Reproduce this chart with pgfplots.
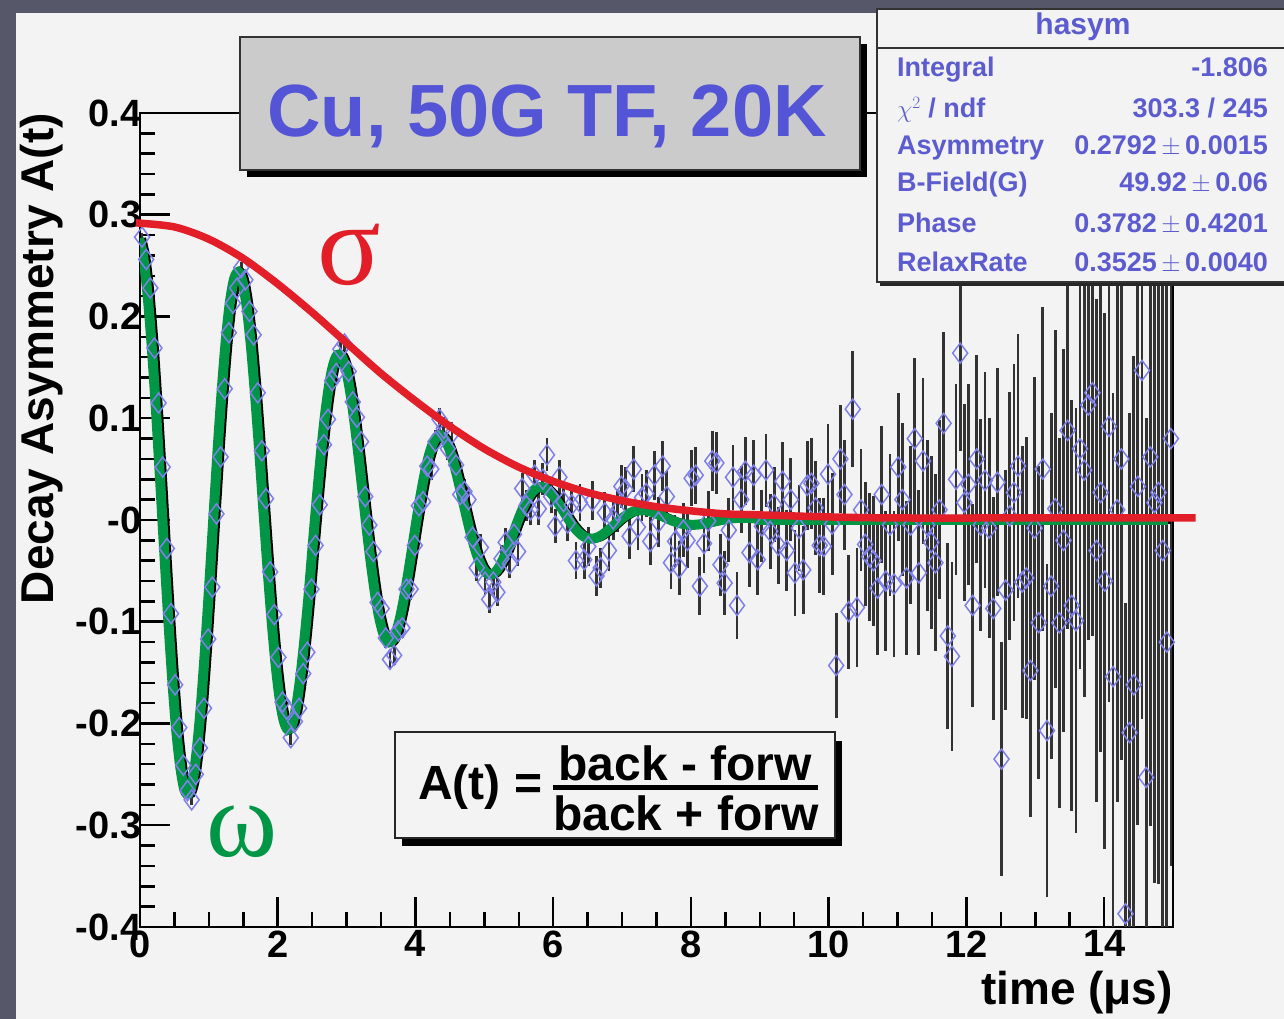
\documentclass[border=0pt]{standalone}
\usepackage{fontspec}
\setmainfont{Liberation Sans}
\newfontfamily\serifgr{Liberation Serif}
\usepackage{pgfplots}
\pgfplotsset{compat=1.18}
\usepackage{pgfplotstable}
\definecolor{bgdark}{RGB}{86,88,106}
\definecolor{canvas}{RGB}{243,243,243}
\definecolor{titlegray}{RGB}{203,203,203}
\definecolor{rootblue}{RGB}{84,84,214}
\definecolor{statblue}{RGB}{92,92,208}
\definecolor{markblue}{RGB}{128,128,236}
\definecolor{fitred}{RGB}{226,30,40}
\definecolor{fitgreen}{RGB}{0,150,70}

\pgfplotstableread{
t m y e
0.03 0.2767 0.278 0.0042
0.09 0.2587 0.256 0.0043
0.15 0.2237 0.228 0.0043
0.21 0.1743 0.169 0.0044
0.27 0.1138 0.115 0.0044
0.33 0.0459 0.052 0.0045
0.39 -0.0247 -0.028 0.0045
0.45 -0.0931 -0.092 0.0046
0.51 -0.1551 -0.162 0.0047
0.57 -0.2069 -0.204 0.0047
0.63 -0.2436 -0.241 0.0048
0.69 -0.2655 -0.266 0.0049
0.75 -0.2689 -0.275 0.0049
0.81 -0.2554 -0.250 0.0050
0.87 -0.2249 -0.224 0.0051
0.93 -0.1805 -0.185 0.0052
0.99 -0.1249 -0.117 0.0052
1.05 -0.0630 -0.066 0.0053
1.11 0.0033 0.006 0.0054
1.17 0.0681 0.062 0.0054
1.23 0.1270 0.129 0.0055
1.29 0.1770 0.184 0.0056
1.35 0.2145 0.213 0.0057
1.41 0.2369 0.228 0.0057
1.47 0.2439 0.248 0.0058
1.53 0.2349 0.236 0.0059
1.59 0.2109 0.205 0.0060
1.65 0.1739 0.182 0.0061
1.71 0.1265 0.125 0.0061
1.77 0.0721 0.068 0.0062
1.83 0.0145 0.021 0.0063
1.89 -0.0425 -0.051 0.0064
1.95 -0.0953 -0.093 0.0065
2.01 -0.1403 -0.135 0.0066
2.07 -0.1750 -0.179 0.0067
2.13 -0.1972 -0.186 0.0068
2.19 -0.2061 -0.214 0.0069
2.25 -0.2014 -0.198 0.0070
2.31 -0.1839 -0.185 0.0071
2.37 -0.1554 -0.151 0.0072
2.43 -0.1182 -0.130 0.0073
2.49 -0.0753 -0.068 0.0074
2.55 -0.0261 -0.025 0.0075
2.61 0.0209 0.015 0.0076
2.67 0.0648 0.074 0.0077
2.73 0.1029 0.099 0.0078
2.79 0.1327 0.137 0.0079
2.85 0.1528 0.144 0.0080
2.91 0.1623 0.168 0.0081
2.97 0.1609 0.173 0.0082
3.03 0.1492 0.146 0.0083
3.09 0.1284 0.116 0.0084
3.15 0.1002 0.101 0.0086
3.21 0.0669 0.077 0.0087
3.27 0.0310 0.023 0.0088
3.33 -0.0054 -0.005 0.0089
3.39 -0.0395 -0.031 0.0090
3.45 -0.0694 -0.081 0.0092
3.51 -0.0936 -0.087 0.0093
3.57 -0.1103 -0.116 0.0094
3.63 -0.1192 -0.137 0.0095
3.69 -0.1198 -0.133 0.0097
3.75 -0.1127 -0.109 0.0098
3.81 -0.0988 -0.106 0.0099
3.87 -0.0793 -0.068 0.0101
3.93 -0.0557 -0.068 0.0102
3.99 -0.0301 -0.025 0.0103
4.05 -0.0039 0.014 0.0105
4.11 0.0210 0.018 0.0106
4.17 0.0431 0.053 0.0108
4.23 0.0611 0.050 0.0109
4.29 0.0741 0.077 0.0111
4.35 0.0815 0.099 0.0112
4.41 0.0832 0.090 0.0114
4.47 0.0794 0.070 0.0115
4.53 0.0708 0.085 0.0117
4.59 0.0582 0.054 0.0118
4.65 0.0427 0.025 0.0120
4.71 0.0255 0.028 0.0122
4.77 0.0078 0.020 0.0123
4.83 -0.0092 -0.017 0.0125
4.89 -0.0243 -0.047 0.0127
4.95 -0.0369 -0.027 0.0128
5.01 -0.0462 -0.061 0.0130
5.07 -0.0518 -0.078 0.0132
5.13 -0.0538 -0.061 0.0134
5.19 -0.0521 -0.071 0.0136
5.25 -0.0472 -0.038 0.0138
5.31 -0.0396 -0.022 0.0139
5.37 -0.0301 -0.043 0.0141
5.43 -0.0193 -0.014 0.0144
5.49 -0.0082 -0.031 0.0146
5.55 0.0026 0.031 0.0148
5.61 0.0124 0.014 0.0150
5.67 0.0206 0.010 0.0152
5.73 0.0268 0.044 0.0154
5.79 0.0308 0.011 0.0156
5.85 0.0324 0.040 0.0158
5.91 0.0319 0.064 0.0161
5.97 0.0293 0.023 0.0163
6.03 0.0251 -0.006 0.0167
6.09 0.0196 0.042 0.0170
6.15 0.0133 0.018 0.0173
6.21 0.0068 -0.003 0.0175
6.27 0.0003 0.015 0.0178
6.33 -0.0056 -0.040 0.0180
6.39 -0.0105 0.017 0.0183
6.45 -0.0144 -0.039 0.0186
6.51 -0.0170 -0.026 0.0189
6.57 -0.0182 0.019 0.0192
6.63 -0.0182 -0.055 0.0195
6.69 -0.0170 -0.047 0.0198
6.75 -0.0148 0.007 0.0201
6.81 -0.0119 -0.030 0.0204
6.87 -0.0085 0.001 0.0207
6.93 -0.0049 0.009 0.0210
6.99 -0.0012 0.033 0.0213
7.05 0.0021 0.030 0.0216
7.11 0.0049 -0.016 0.0219
7.17 0.0072 0.050 0.0223
7.23 0.0087 -0.007 0.0226
7.29 0.0095 0.022 0.0230
7.35 0.0097 0.026 0.0233
7.41 0.0092 -0.021 0.0237
7.47 0.0081 0.044 0.0241
7.53 0.0066 -0.002 0.0245
7.59 0.0049 0.053 0.0248
7.65 0.0030 0.023 0.0252
7.71 0.0012 -0.042 0.0256
7.77 -0.0006 -0.021 0.0260
7.83 -0.0021 -0.047 0.0264
7.89 -0.0033 -0.010 0.0268
7.95 -0.0042 -0.020 0.0272
8.01 -0.0046 0.041 0.0276
8.07 -0.0048 0.044 0.0280
8.13 -0.0046 -0.065 0.0284
8.19 -0.0041 -0.023 0.0288
8.25 -0.0034 -0.001 0.0293
8.31 -0.0026 0.058 0.0297
8.37 -0.0017 0.056 0.0302
8.43 -0.0008 -0.044 0.0306
8.49 0.0000 -0.062 0.0311
8.55 0.0008 -0.010 0.0315
8.61 0.0014 0.042 0.0320
8.67 0.0018 -0.084 0.0325
8.73 0.0021 0.020 0.0330
8.79 0.0022 0.048 0.0335
8.85 0.0021 -0.032 0.0340
8.91 0.0020 0.044 0.0345
8.97 0.0017 -0.039 0.0350
9.03 0 -0.006 0.035
9.09 0 0.049 0.036
9.15 0 -0.011 0.037
9.21 0 0.015 0.037
9.27 0 -0.025 0.038
9.33 0 0.038 0.039
9.39 0 -0.030 0.040
9.45 0 0.020 0.041
9.51 0 -0.052 0.042
9.57 0 -0.008 0.042
9.63 0 -0.049 0.043
9.69 0 0.034 0.044
9.75 0 0.036 0.045
9.81 0 0.012 0.046
9.87 0 -0.025 0.047
9.93 0 -0.026 0.048
9.99 0 0.045 0.049
10.05 0 -0.004 0.050
10.11 0 -0.143 0.052
10.17 0 0.060 0.053
10.23 0 0.025 0.054
10.29 0 -0.090 0.056
10.35 0 0.109 0.057
10.41 0 -0.086 0.058
10.47 0 0.010 0.060
10.53 0 -0.024 0.061
10.59 0 -0.036 0.063
10.65 0 -0.040 0.064
10.71 0 -0.067 0.066
10.77 0 0.025 0.067
10.83 0 -0.060 0.069
10.89 0 -0.005 0.070
10.95 0 -0.063 0.072
11.01 0 0.052 0.073
11.07 0 0.020 0.075
11.13 0 -0.057 0.076
11.19 0 -0.005 0.078
11.25 0 0.080 0.079
11.31 0 -0.052 0.081
11.37 0 0.058 0.082
11.43 0 -0.005 0.084
11.49 0 -0.022 0.085
11.55 0 -0.042 0.087
11.61 0 0.010 0.088
11.67 0 0.095 0.090
11.73 0 -0.114 0.091
11.79 0 -0.134 0.093
11.85 0 0.040 0.094
11.91 0 0.164 0.096
11.97 0 0.017 0.097
12.03 0 0.035 0.099
12.09 0 -0.084 0.100
12.15 0 0.060 0.102
12.21 0 -0.005 0.104
12.27 0 0.039 0.106
12.33 0 -0.008 0.108
12.39 0 -0.087 0.110
12.45 0 0.037 0.112
12.51 0 -0.235 0.115
12.57 0 -0.069 0.118
12.63 0 0.004 0.122
12.69 0 0.027 0.126
12.75 0 0.053 0.130
12.81 0 -0.061 0.134
12.87 0 -0.057 0.139
12.93 0 -0.148 0.144
12.99 0 -0.008 0.149
13.05 0 -0.101 0.154
13.11 0 0.050 0.159
13.17 0 -0.207 0.164
13.23 0 -0.065 0.170
13.29 0 0.011 0.176
13.35 0 -0.101 0.182
13.41 0 -0.020 0.188
13.47 0 0.088 0.195
13.53 0 -0.084 0.202
13.59 0 -0.099 0.209
13.65 0 0.070 0.216
13.71 0 0.049 0.223
13.77 0 0.113 0.231
13.83 0 0.125 0.239
13.89 0 -0.030 0.247
13.95 0 0.027 0.255
14.01 0 -0.060 0.263
14.07 0 0.092 0.271
14.13 0 -0.154 0.279
14.19 0 0.010 0.287
14.25 0 0.060 0.296
14.31 0 -0.387 0.305
14.37 0 -0.209 0.314
14.43 0 -0.162 0.323
14.49 0 0.033 0.333
14.55 0 0.147 0.343
14.61 0 -0.253 0.353
14.67 0 0.062 0.363
14.73 0 0.017 0.374
14.79 0 0.027 0.385
14.85 0 -0.030 0.396
14.91 0 -0.120 0.408
14.97 0 0.080 0.420
}\asym

\begin{document}
\begin{tikzpicture}[x=1pt,y=1pt]
\useasboundingbox (0,0) rectangle (1284,1019);
\fill[bgdark] (0,0) rectangle (1284,1019);
\fill[canvas] (16,0) rectangle (1284,1006);

\begin{axis}[
  at={(140pt,92pt)}, anchor=south west,
  scale only axis, width=1033pt, height=814pt,
  xmin=0, xmax=15, ymin=-0.4, ymax=0.4,
  xtick={0,2,4,6,8,10,12,14},
  xticklabels={0,2,4,6,8,10,12,14},
  ytick={-0.4,-0.3,-0.2,-0.1,0,0.1,0.2,0.3,0.4},
  yticklabels={-0.4,-0.3,-0.2,-0.1,-0,0.1,0.2,0.3,0.4},
  minor x tick num=3, minor y tick num=4,
  tick pos=left, tick align=inside,
  major tick length=30pt, minor tick length=15pt,
  tick style={black, line width=2.5pt},
  axis line style={black, line width=2.5pt},
  ticklabel style={font=\fontsize{38}{45}\selectfont\bfseries},
  yticklabel style={xshift=5pt},
  xlabel={time (μs)},
  ylabel={Decay Asymmetry A(t)},
  xlabel style={at={(axis description cs:1,-0.0958)}, anchor=base east, inner sep=0pt, font=\fontsize{46}{55}\selectfont\bfseries},
  ylabel style={at={(axis description cs:-0.0842,1)}, anchor=base east, inner sep=0pt, font=\fontsize{46}{55}\selectfont\bfseries},
]
\addplot[only marks, mark=diamond, mark size=10pt,
  mark options={draw=markblue, fill=none, line width=1.5pt, solid},
  error bars/.cd, y dir=both, y explicit, error mark=none,
  error bar style={draw=black!80, line width=2.8pt}]
  table[x=t, y=y, y error=e]{\asym};
\addplot[black, line width=8pt, smooth, mark=none] table[x=t, y=m]{\asym};
\addplot[fitgreen, line width=10pt, smooth, mark=none, xshift=-3pt] table[x=t, y=m]{\asym};
\end{axis}

\begin{axis}[
  at={(140pt,92pt)}, anchor=south west,
  scale only axis, width=1033pt, height=814pt,
  xmin=0, xmax=15, ymin=-0.4, ymax=0.4,
  hide axis, clip=false]
\addplot[fitred, line width=7.5pt, smooth, mark=none] coordinates {
(-0.06,0.292) (0.5,0.288) (1,0.276) (1.5,0.257) (2,0.232) (2.5,0.204)
(3,0.174) (3.5,0.144) (4,0.117) (4.5,0.092) (5,0.070) (5.5,0.052)
(6,0.038) (6.5,0.027) (7,0.019) (7.5,0.013) (8,0.009) (8.5,0.006)
(9,0.005) (10,0.003) (11,0.002) (13,0.002) (15.33,0.002)};
\end{axis}

% title box
\fill[black] (247,842) rectangle (867,975);
\filldraw[fill=titlegray, draw=black!80, line width=1.5pt] (240,849) rectangle (860,982);
\node[anchor=base, inner sep=0pt, text=rootblue, font=\fontsize{74}{88}\selectfont\bfseries] at (547,882) {Cu, 50G TF, 20K};

% stats box
\fill[black!85] (880,733) rectangle (1290,1000);
\filldraw[fill=canvas, draw=black!80, line width=2pt] (877,737) rectangle (1290,1010);
\draw[black!80, line width=2pt] (877,971) -- (1290,971);
\begin{scope}[every node/.style={inner sep=0pt, text=statblue, font=\fontsize{27}{32}\selectfont\bfseries}]
\node[anchor=base, font=\fontsize{30}{36}\selectfont\bfseries] at (1083,984) {hasym};
\node[anchor=base west] at (897,942) {Integral};
\node[anchor=base east] at (1268,942) {-1.806};
\node[anchor=base west] at (897,901) {$\chi^{2}$ / ndf};
\node[anchor=base east] at (1268,901) {303.3 / 245};
\node[anchor=base west] at (897,864) {Asymmetry};
\node[anchor=base east] at (1268,864) {0.2792\,$\pm$\,0.0015};
\node[anchor=base west] at (897,827) {B-Field(G)};
\node[anchor=base east] at (1268,827) {49.92\,$\pm$\,0.06};
\node[anchor=base west] at (897,786) {Phase};
\node[anchor=base east] at (1268,786) {0.3782\,$\pm$\,0.4201};
\node[anchor=base west] at (897,747) {RelaxRate};
\node[anchor=base east] at (1268,747) {0.3525\,$\pm$\,0.0040};
\end{scope}

% formula box
\fill[black] (402,173) rectangle (842,278);
\filldraw[fill=canvas, draw=black!85, line width=2pt] (395,181) rectangle (835,287);
\begin{scope}[every node/.style={inner sep=0pt, font=\fontsize{48}{56}\selectfont\bfseries}]
\node[anchor=base west] at (418,219) {A(t) =};
\node[anchor=base] at (685,238) {back - forw};
\node[anchor=base] at (686,188) {back + forw};
\end{scope}
\draw[black, line width=4.5pt] (553,231.5) -- (818,231.5);

% sigma and omega
\node[text=fitred, inner sep=0pt, font=\serifgr\fontsize{118}{130}\selectfont] at (349,764) {σ};
\node[text=fitgreen, inner sep=0pt, font=\serifgr\fontsize{108}{120}\selectfont] at (242,187) {ω};
\end{tikzpicture}
\end{document}
